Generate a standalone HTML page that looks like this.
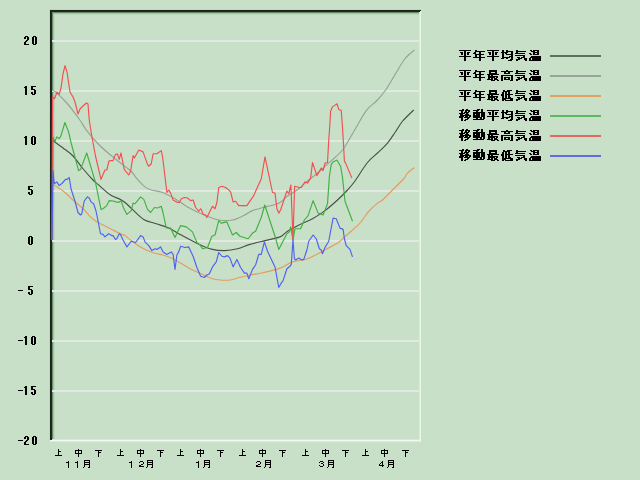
<!DOCTYPE html>
<html><head><meta charset="utf-8"><style>
html,body{margin:0;padding:0;background:#c8e0c8;width:640px;height:480px;overflow:hidden;font-family:"Liberation Sans",sans-serif}
svg{position:absolute;left:0;top:0;display:block}
</style></head><body>
<svg width="640" height="480" viewBox="0 0 640 480">
<rect x="0" y="0" width="640" height="480" fill="#c8e0c8"/>
<rect x="49" y="9" width="1" height="431" fill="#bcd6bc"/>
<rect x="49" y="9" width="372" height="1" fill="#bcd6bc"/>
<rect x="54" y="14" width="1" height="425" fill="#bcd8bc"/>
<rect x="54" y="14" width="365" height="1" fill="#bcd8bc"/>
<rect x="53" y="13" width="1" height="426" fill="#a8c4a8"/>
<rect x="53" y="13" width="366" height="1" fill="#a8c4a8"/>
<rect x="52" y="12" width="1" height="427" fill="#668a66"/>
<rect x="52" y="12" width="367" height="1" fill="#668a66"/>
<rect x="52" y="40" width="367" height="2" fill="#e0eae0"/><rect x="52" y="90" width="367" height="2" fill="#e0eae0"/><rect x="52" y="140" width="367" height="2" fill="#e0eae0"/><rect x="52" y="190" width="367" height="2" fill="#e0eae0"/><rect x="52" y="240" width="367" height="2" fill="#e0eae0"/><rect x="52" y="290" width="367" height="2" fill="#e0eae0"/><rect x="52" y="340" width="367" height="2" fill="#e0eae0"/><rect x="52" y="390" width="367" height="2" fill="#e0eae0"/>
<rect x="50" y="439" width="371" height="1" fill="#d4ead4"/>
<rect x="50" y="440" width="371" height="1" fill="#f0f8f0"/>
<rect x="50" y="441" width="371" height="1" fill="#dce8dc"/>
<rect x="419" y="10" width="1" height="430" fill="#d8ecd8"/>
<rect x="420" y="10" width="1" height="432" fill="#e8f6e8"/>
<rect x="50" y="10" width="1" height="430" fill="#1c221c"/>
<rect x="51" y="11" width="1" height="429" fill="#123012"/>
<rect x="50" y="10" width="371" height="1" fill="#1c221c"/>
<rect x="51" y="11" width="369" height="1" fill="#123012"/>
<g fill="none" stroke-width="1.15" stroke-linejoin="round" stroke-linecap="butt" shape-rendering="auto">
<path d="M52,140C53.83,141.33 59.50,145.33 63,148C66.50,150.67 69.67,152.54 73,156C76.33,159.46 79.67,164.75 83,168.75C86.33,172.75 90.50,177.39 93,180C95.50,182.61 95.08,181.90 98,184.4C100.92,186.90 106.75,192.50 110.5,195C114.25,197.50 118.08,198.15 120.5,199.4C122.92,200.65 123.00,200.83 125,202.5C127.00,204.17 129.38,206.58 132.5,209.4C135.62,212.22 139.79,217.01 143.75,219.4C147.71,221.79 152.08,222.32 156.25,223.75C160.42,225.18 164.58,226.12 168.75,228C172.92,229.88 176.04,232.22 181.25,235C186.46,237.78 194.79,242.30 200,244.7C205.21,247.10 208.33,248.42 212.5,249.4C216.67,250.38 220.83,250.71 225,250.6C229.17,250.49 233.33,249.78 237.5,248.75C241.67,247.72 245.42,245.76 250,244.4C254.58,243.04 260.00,241.85 265,240.6C270.00,239.35 276.25,238.46 280,236.9C283.75,235.34 284.17,233.33 287.5,231.25C290.83,229.17 295.83,226.48 300,224.4C304.17,222.32 308.33,221.05 312.5,218.75C316.67,216.45 320.83,213.72 325,210.6C329.17,207.47 333.75,203.43 337.5,200C341.25,196.57 344.58,193.17 347.5,190C350.42,186.83 351.67,185.58 355,181C358.33,176.42 363.54,167.35 367.5,162.5C371.46,157.65 375.42,155.13 378.75,151.9C382.08,148.67 384.79,146.33 387.5,143.1C390.21,139.87 392.50,136.14 395,132.5C397.50,128.86 399.38,125.00 402.5,121.25C405.62,117.50 411.88,111.88 413.75,110" stroke="#465246"/>
<path d="M52,90.5C52.58,90.73 53.04,89.82 55.5,91.9C57.96,93.98 62.83,98.53 66.75,103C70.67,107.47 75.67,114.15 79,118.75C82.33,123.35 83.58,126.43 86.75,130.6C89.92,134.77 94.04,139.68 98,143.75C101.96,147.82 105.50,150.83 110.5,155C115.50,159.17 124.54,166.04 128,168.75C131.46,171.46 129.67,169.47 131.25,171.25C132.83,173.03 135.21,176.79 137.5,179.4C139.79,182.01 142.71,185.13 145,186.9C147.29,188.67 148.33,189.07 151.25,190C154.17,190.93 158.54,191.04 162.5,192.5C166.46,193.96 170.83,196.35 175,198.75C179.17,201.15 182.50,204.14 187.5,206.9C192.50,209.66 199.79,213.12 205,215.3C210.21,217.48 214.17,219.22 218.75,220C223.33,220.78 228.33,220.73 232.5,220C236.67,219.27 240.42,217.17 243.75,215.6C247.08,214.03 248.96,212.05 252.5,210.6C256.04,209.15 262.18,207.67 265,206.9C267.82,206.13 266.95,206.68 269.4,206C271.85,205.32 276.73,204.43 279.7,202.8C282.67,201.18 284.70,198.12 287.2,196.25C289.70,194.38 292.67,192.92 294.7,191.6C296.73,190.28 297.68,189.72 299.4,188.3C301.12,186.88 302.82,184.98 305,183.1C307.18,181.22 310.00,179.02 312.5,177C315.00,174.98 317.08,173.52 320,171C322.92,168.48 326.25,165.40 330,161.9C333.75,158.40 338.75,154.69 342.5,150C346.25,145.31 348.54,140.32 352.5,133.75C356.46,127.18 362.29,116.02 366.25,110.6C370.21,105.18 373.02,104.68 376.25,101.25C379.48,97.82 382.27,94.79 385.6,90C388.93,85.21 393.02,77.71 396.25,72.5C399.48,67.29 401.98,62.50 405,58.75C408.02,55.00 412.83,51.46 414.4,50" stroke="#96a296"/>
<path d="M52,183.75C53.83,184.96 59.50,188.29 63,191C66.50,193.71 69.67,197.04 73,200C76.33,202.96 80.29,206.15 83,208.75C85.71,211.35 87.38,213.72 89.25,215.6C91.12,217.47 92.38,218.64 94.25,220C96.12,221.36 97.79,222.29 100.5,223.75C103.21,225.21 107.17,227.08 110.5,228.75C113.83,230.42 118.08,232.61 120.5,233.75C122.92,234.89 123.21,234.46 125,235.6C126.79,236.74 128.54,238.62 131.25,240.6C133.96,242.58 137.71,245.52 141.25,247.5C144.79,249.48 148.96,251.25 152.5,252.5C156.04,253.75 159.58,254.17 162.5,255C165.42,255.83 167.29,256.35 170,257.5C172.71,258.65 175.42,260.02 178.75,261.9C182.08,263.77 185.62,266.47 190,268.75C194.38,271.03 201.25,273.93 205,275.6C208.75,277.27 210.00,278.02 212.5,278.75C215.00,279.48 217.08,279.79 220,280C222.92,280.21 227.08,280.33 230,280C232.92,279.67 234.17,278.83 237.5,278C240.83,277.17 245.83,275.88 250,275C254.17,274.12 257.50,273.90 262.5,272.75C267.50,271.60 275.00,269.91 280,268.1C285.00,266.29 287.92,263.46 292.5,261.9C297.08,260.34 302.50,260.52 307.5,258.75C312.50,256.98 317.50,253.86 322.5,251.25C327.50,248.64 333.75,245.56 337.5,243.1C341.25,240.64 341.46,239.62 345,236.5C348.54,233.38 355.42,227.78 358.75,224.4C362.08,221.03 363.12,218.65 365,216.25C366.88,213.85 367.92,212.19 370,210C372.08,207.81 375.42,204.77 377.5,203.1C379.58,201.43 379.58,202.60 382.5,200C385.42,197.40 391.46,191.04 395,187.5C398.54,183.96 401.67,181.15 403.75,178.75C405.83,176.35 405.73,174.97 407.5,173.1C409.27,171.22 413.25,168.43 414.4,167.5" stroke="#e49c60"/>
<polyline points="52,240 53,137 54.9,141.9 56.75,136.9 59.25,138.75 61,135.6 64.9,122.5 68.6,131.9 71,142.5 78.6,170.6 80.5,169.4 86.75,153 90.5,165.6 95.5,182.5 101,209.4 103,208.75 106.75,205.6 109.25,200.6 113,201 116,201.9 118.6,202.5 121,200.6 123.6,208 126.9,214.4 131.25,210.6 133.1,203.1 135,203.75 140.6,196.9 143.75,199.4 147.5,209.4 150.6,212.5 154.4,207.5 157.5,208 161.25,206.25 163.1,213 166.25,228 170.6,228 175,237.5 180.6,225.6 186.25,226.9 192.5,231.9 196.9,242.5 200,245 202.5,248.75 207.5,247.5 211.9,236.25 215,235 218.75,220.6 221.25,223.1 226.9,221.9 232.5,235 236.25,232.5 240,236.25 248.1,238.75 252.5,233.1 255.6,231.25 261.25,217.5 264.75,205 275,236.25 278.75,249.4 286.9,233.75 289.4,231.9 290.6,226.9 293,240 295,228.75 300.6,228.75 304.4,220 308.1,215.6 313.1,200.6 318.1,213.1 323.1,215 326.25,206.9 327.5,203.75 329.4,176.25 331.25,164.4 333.1,161.9 336.9,160 340.6,166.25 342.5,177.5 345,201.25 352.5,221.25" stroke="#40b040"/>
<polyline points="52,240 52.5,97 54.5,98.75 57,92 59,94.5 61,88 63,74 65,65.6 67,72 70,92 73,97 75,102 78,114 80,109 83,106 86.5,103 88,104 89.25,120 91.75,136 95.5,156 101,179.4 104.9,170 106.75,170 109,161 110.5,160.6 113,160.6 115.5,154.4 117.4,154 119.25,159.4 121,153 124.25,169.4 128.75,175 130.6,171.25 133.1,155.6 134.4,158 138.75,150 143.1,151.9 147.5,164.4 148.75,166.25 151.25,163.75 153.1,153.75 156.9,153.75 161.25,150.6 162.5,156.25 166.9,192.5 168.75,190 170.6,193.1 173.1,200 177.5,202.5 179.4,202.5 181.25,198.75 184.4,197.5 187.5,198 190.6,200.6 193.1,200 195.6,207.5 198.75,211.25 200.6,208.75 201.25,209.4 203.1,214.4 205.6,215 206.9,217.5 208.75,213.75 212.5,206.25 215,208.75 216.9,202.5 218.75,187.5 221.9,186.25 225.6,187.5 228.1,189.4 230.6,191.9 233.1,201.9 235.6,201.25 238.75,205.6 246.9,205.6 249.4,201.9 253.75,195.6 261.25,178.75 265,156.9 272.5,192.5 275,193.1 276.9,208.75 278.75,213.1 280.6,210 286.9,191 288.75,193.75 290.9,185 293,240 294.6,186.25 299.4,187.5 301.25,187.5 305,181.9 307.5,183.1 310.6,178.1 312.5,162.5 316.9,175.6 321.25,168.1 323.1,170.6 325,163.1 327.5,162.5 328.75,140 330,122.5 330.6,111.25 332.5,106.9 334.4,105.6 336.9,103.75 338.75,109.4 341.25,110.6 342.5,127.5 343.75,148.75 344.4,161.25 345.6,163.1 351.9,178.1" stroke="#f05050"/>
<polyline points="52,240 53,170.6 54.25,183.75 56.75,181.9 59.25,185.6 62.4,183 65.5,179.4 67.4,179.4 69.25,177.5 71,188.75 74.9,201 78,212.5 80.5,215 81.75,213.75 84.25,201 87.4,196.9 89.25,198 91,201.9 93.6,203.75 96,211 98.6,223.75 100.5,233.75 103,234.4 104.9,236.9 108.6,233.75 111.75,235.6 113,235.6 115.5,239.4 116.75,238.75 119.25,233.75 120.5,234.4 123,240 126.9,246.9 131.25,241.25 135.6,242.5 140.6,235.6 143.1,236.9 145,241.9 148.75,245.6 151.9,250.6 155,248.75 156.9,249.4 160.6,246.9 163.1,251.9 166.9,254.4 171.25,251.9 173.1,254.4 175,269.4 176.9,255 178.75,251.9 180.6,246.25 185,247.5 188.75,246.9 193.1,256.25 196.9,267.5 200.6,276.25 204.4,277.5 206.9,275 209.4,273.75 212.5,266.9 216.25,261.9 218.75,252.5 221.9,256.25 224.4,256.9 227.5,255.6 230,258.1 233.1,266.9 236.9,259.4 240.6,267.5 244.4,273.1 246.9,273.1 248.75,278.75 252.5,269.4 255.6,265 258.75,254.4 261.25,254.4 264.4,241.9 267.5,251.25 275,266.9 278.75,287.5 281.25,283.1 283.1,280.6 286.9,268.75 290,266.25 291.25,264.4 293,240 294.4,258.75 295.6,260 298.75,258.1 301.9,260 303.75,259.4 306.9,250 308.75,241.25 313.1,235 316.25,238.75 319.4,248.75 321.25,250 322.5,253.75 325,247.5 328.75,241.25 330.6,231.25 333.1,218.1 336.25,218.75 340,228.1 343.1,229.4 344.4,238.75 346.25,245.6 350,249.4 352.5,256.9" stroke="#5060f0"/>
</g>
<path d="M25 36h3v1h-3zM24 37h2v1h-2zM27 37h2v1h-2zM24 38h2v1h-2zM27 38h2v1h-2zM27 39h2v1h-2zM26 40h2v1h-2zM25 41h2v1h-2zM24 42h2v1h-2zM24 43h2v1h-2zM24 44h5v1h-5zM33 36h3v1h-3zM32 37h2v1h-2zM35 37h2v1h-2zM32 38h2v1h-2zM35 38h2v1h-2zM32 39h2v1h-2zM35 39h2v1h-2zM32 40h2v1h-2zM35 40h2v1h-2zM32 41h2v1h-2zM35 41h2v1h-2zM32 42h2v1h-2zM35 42h2v1h-2zM32 43h2v1h-2zM35 43h2v1h-2zM33 44h3v1h-3zM25 86h2v1h-2zM24 87h3v1h-3zM25 88h2v1h-2zM25 89h2v1h-2zM25 90h2v1h-2zM25 91h2v1h-2zM25 92h2v1h-2zM25 93h2v1h-2zM25 94h2v1h-2zM31 86h5v1h-5zM31 87h2v1h-2zM31 88h2v1h-2zM31 89h4v1h-4zM34 90h2v1h-2zM34 91h2v1h-2zM31 92h2v1h-2zM34 92h2v1h-2zM31 93h2v1h-2zM34 93h2v1h-2zM32 94h3v1h-3zM25 136h2v1h-2zM24 137h3v1h-3zM25 138h2v1h-2zM25 139h2v1h-2zM25 140h2v1h-2zM25 141h2v1h-2zM25 142h2v1h-2zM25 143h2v1h-2zM25 144h2v1h-2zM32 136h3v1h-3zM31 137h2v1h-2zM34 137h2v1h-2zM31 138h2v1h-2zM34 138h2v1h-2zM31 139h2v1h-2zM34 139h2v1h-2zM31 140h2v1h-2zM34 140h2v1h-2zM31 141h2v1h-2zM34 141h2v1h-2zM31 142h2v1h-2zM34 142h2v1h-2zM31 143h2v1h-2zM34 143h2v1h-2zM32 144h3v1h-3zM28 186h5v1h-5zM28 187h2v1h-2zM28 188h2v1h-2zM28 189h4v1h-4zM31 190h2v1h-2zM31 191h2v1h-2zM28 192h2v1h-2zM31 192h2v1h-2zM28 193h2v1h-2zM31 193h2v1h-2zM29 194h3v1h-3zM29 236h3v1h-3zM28 237h2v1h-2zM31 237h2v1h-2zM28 238h2v1h-2zM31 238h2v1h-2zM28 239h2v1h-2zM31 239h2v1h-2zM28 240h2v1h-2zM31 240h2v1h-2zM28 241h2v1h-2zM31 241h2v1h-2zM28 242h2v1h-2zM31 242h2v1h-2zM28 243h2v1h-2zM31 243h2v1h-2zM29 244h3v1h-3zM18 290h5v1h-5zM28 286h5v1h-5zM28 287h2v1h-2zM28 288h2v1h-2zM28 289h4v1h-4zM31 290h2v1h-2zM31 291h2v1h-2zM28 292h2v1h-2zM31 292h2v1h-2zM28 293h2v1h-2zM31 293h2v1h-2zM29 294h3v1h-3zM18 340h5v1h-5zM25 336h2v1h-2zM24 337h3v1h-3zM25 338h2v1h-2zM25 339h2v1h-2zM25 340h2v1h-2zM25 341h2v1h-2zM25 342h2v1h-2zM25 343h2v1h-2zM25 344h2v1h-2zM32 336h3v1h-3zM31 337h2v1h-2zM34 337h2v1h-2zM31 338h2v1h-2zM34 338h2v1h-2zM31 339h2v1h-2zM34 339h2v1h-2zM31 340h2v1h-2zM34 340h2v1h-2zM31 341h2v1h-2zM34 341h2v1h-2zM31 342h2v1h-2zM34 342h2v1h-2zM31 343h2v1h-2zM34 343h2v1h-2zM32 344h3v1h-3zM18 390h5v1h-5zM25 386h2v1h-2zM24 387h3v1h-3zM25 388h2v1h-2zM25 389h2v1h-2zM25 390h2v1h-2zM25 391h2v1h-2zM25 392h2v1h-2zM25 393h2v1h-2zM25 394h2v1h-2zM31 386h5v1h-5zM31 387h2v1h-2zM31 388h2v1h-2zM31 389h4v1h-4zM34 390h2v1h-2zM34 391h2v1h-2zM31 392h2v1h-2zM34 392h2v1h-2zM31 393h2v1h-2zM34 393h2v1h-2zM32 394h3v1h-3zM18 440h5v1h-5zM25 436h3v1h-3zM24 437h2v1h-2zM27 437h2v1h-2zM24 438h2v1h-2zM27 438h2v1h-2zM27 439h2v1h-2zM26 440h2v1h-2zM25 441h2v1h-2zM24 442h2v1h-2zM24 443h2v1h-2zM24 444h5v1h-5zM33 436h3v1h-3zM32 437h2v1h-2zM35 437h2v1h-2zM32 438h2v1h-2zM35 438h2v1h-2zM32 439h2v1h-2zM35 439h2v1h-2zM32 440h2v1h-2zM35 440h2v1h-2zM32 441h2v1h-2zM35 441h2v1h-2zM32 442h2v1h-2zM35 442h2v1h-2zM32 443h2v1h-2zM35 443h2v1h-2zM33 444h3v1h-3z" fill="#000"/>
<path d="M58 449h1v1h-1zM58 450h1v1h-1zM58 451h3v1h-3zM58 452h1v1h-1zM58 453h1v1h-1zM58 454h1v1h-1zM55 455h7v1h-7zM120 449h1v1h-1zM120 450h1v1h-1zM120 451h3v1h-3zM120 452h1v1h-1zM120 453h1v1h-1zM120 454h1v1h-1zM117 455h7v1h-7zM180 449h1v1h-1zM180 450h1v1h-1zM180 451h3v1h-3zM180 452h1v1h-1zM180 453h1v1h-1zM180 454h1v1h-1zM177 455h7v1h-7zM242 449h1v1h-1zM242 450h1v1h-1zM242 451h3v1h-3zM242 452h1v1h-1zM242 453h1v1h-1zM242 454h1v1h-1zM239 455h7v1h-7zM305 449h1v1h-1zM305 450h1v1h-1zM305 451h3v1h-3zM305 452h1v1h-1zM305 453h1v1h-1zM305 454h1v1h-1zM302 455h7v1h-7zM365 449h1v1h-1zM365 450h1v1h-1zM365 451h3v1h-3zM365 452h1v1h-1zM365 453h1v1h-1zM365 454h1v1h-1zM362 455h7v1h-7zM78 449h1v1h-1zM75 450h7v1h-7zM75 451h1v1h-1zM78 451h1v1h-1zM81 451h1v1h-1zM75 452h1v1h-1zM78 452h1v1h-1zM81 452h1v1h-1zM75 453h7v1h-7zM78 454h1v1h-1zM78 455h1v1h-1zM78 456h1v1h-1zM140 449h1v1h-1zM137 450h7v1h-7zM137 451h1v1h-1zM140 451h1v1h-1zM143 451h1v1h-1zM137 452h1v1h-1zM140 452h1v1h-1zM143 452h1v1h-1zM137 453h7v1h-7zM140 454h1v1h-1zM140 455h1v1h-1zM140 456h1v1h-1zM200 449h1v1h-1zM197 450h7v1h-7zM197 451h1v1h-1zM200 451h1v1h-1zM203 451h1v1h-1zM197 452h1v1h-1zM200 452h1v1h-1zM203 452h1v1h-1zM197 453h7v1h-7zM200 454h1v1h-1zM200 455h1v1h-1zM200 456h1v1h-1zM262 449h1v1h-1zM259 450h7v1h-7zM259 451h1v1h-1zM262 451h1v1h-1zM265 451h1v1h-1zM259 452h1v1h-1zM262 452h1v1h-1zM265 452h1v1h-1zM259 453h7v1h-7zM262 454h1v1h-1zM262 455h1v1h-1zM262 456h1v1h-1zM325 449h1v1h-1zM322 450h7v1h-7zM322 451h1v1h-1zM325 451h1v1h-1zM328 451h1v1h-1zM322 452h1v1h-1zM325 452h1v1h-1zM328 452h1v1h-1zM322 453h7v1h-7zM325 454h1v1h-1zM325 455h1v1h-1zM325 456h1v1h-1zM384 449h1v1h-1zM381 450h7v1h-7zM381 451h1v1h-1zM384 451h1v1h-1zM387 451h1v1h-1zM381 452h1v1h-1zM384 452h1v1h-1zM387 452h1v1h-1zM381 453h7v1h-7zM384 454h1v1h-1zM384 455h1v1h-1zM384 456h1v1h-1zM95 450h7v1h-7zM98 451h1v1h-1zM98 452h3v1h-3zM98 453h1v1h-1zM98 454h1v1h-1zM98 455h1v1h-1zM98 456h1v1h-1zM157 450h7v1h-7zM160 451h1v1h-1zM160 452h3v1h-3zM160 453h1v1h-1zM160 454h1v1h-1zM160 455h1v1h-1zM160 456h1v1h-1zM217 450h7v1h-7zM220 451h1v1h-1zM220 452h3v1h-3zM220 453h1v1h-1zM220 454h1v1h-1zM220 455h1v1h-1zM220 456h1v1h-1zM279 450h7v1h-7zM282 451h1v1h-1zM282 452h3v1h-3zM282 453h1v1h-1zM282 454h1v1h-1zM282 455h1v1h-1zM282 456h1v1h-1zM342 450h7v1h-7zM345 451h1v1h-1zM345 452h3v1h-3zM345 453h1v1h-1zM345 454h1v1h-1zM345 455h1v1h-1zM345 456h1v1h-1zM402 450h7v1h-7zM405 451h1v1h-1zM405 452h3v1h-3zM405 453h1v1h-1zM405 454h1v1h-1zM405 455h1v1h-1zM405 456h1v1h-1zM68 461h1v1h-1zM66 462h3v1h-3zM68 463h1v1h-1zM68 464h1v1h-1zM68 465h1v1h-1zM68 466h1v1h-1zM68 467h1v1h-1zM77 461h1v1h-1zM75 462h3v1h-3zM77 463h1v1h-1zM77 464h1v1h-1zM77 465h1v1h-1zM77 466h1v1h-1zM77 467h1v1h-1zM84 460h6v1h-6zM84 461h1v1h-1zM89 461h1v1h-1zM84 462h6v1h-6zM84 463h1v1h-1zM89 463h1v1h-1zM84 464h6v1h-6zM84 465h1v1h-1zM89 465h1v1h-1zM84 466h1v1h-1zM89 466h1v1h-1zM83 467h1v1h-1zM88 467h2v1h-2zM131 461h1v1h-1zM129 462h3v1h-3zM131 463h1v1h-1zM131 464h1v1h-1zM131 465h1v1h-1zM131 466h1v1h-1zM131 467h1v1h-1zM140 461h3v1h-3zM139 462h1v1h-1zM143 462h1v1h-1zM143 463h1v1h-1zM141 464h2v1h-2zM139 465h2v1h-2zM139 466h5v1h-5zM147 460h6v1h-6zM147 461h1v1h-1zM152 461h1v1h-1zM147 462h6v1h-6zM147 463h1v1h-1zM152 463h1v1h-1zM147 464h6v1h-6zM147 465h1v1h-1zM152 465h1v1h-1zM147 466h1v1h-1zM152 466h1v1h-1zM146 467h1v1h-1zM151 467h2v1h-2zM198 461h1v1h-1zM196 462h3v1h-3zM198 463h1v1h-1zM198 464h1v1h-1zM198 465h1v1h-1zM198 466h1v1h-1zM198 467h1v1h-1zM204 460h6v1h-6zM204 461h1v1h-1zM209 461h1v1h-1zM204 462h6v1h-6zM204 463h1v1h-1zM209 463h1v1h-1zM204 464h6v1h-6zM204 465h1v1h-1zM209 465h1v1h-1zM204 466h1v1h-1zM209 466h1v1h-1zM203 467h1v1h-1zM208 467h2v1h-2zM257 461h3v1h-3zM256 462h1v1h-1zM260 462h1v1h-1zM260 463h1v1h-1zM258 464h2v1h-2zM256 465h2v1h-2zM256 466h5v1h-5zM265 460h6v1h-6zM265 461h1v1h-1zM270 461h1v1h-1zM265 462h6v1h-6zM265 463h1v1h-1zM270 463h1v1h-1zM265 464h6v1h-6zM265 465h1v1h-1zM270 465h1v1h-1zM265 466h1v1h-1zM270 466h1v1h-1zM264 467h1v1h-1zM269 467h2v1h-2zM320 461h3v1h-3zM319 462h1v1h-1zM323 462h1v1h-1zM321 463h2v1h-2zM323 464h1v1h-1zM319 465h1v1h-1zM323 465h1v1h-1zM320 466h3v1h-3zM328 460h6v1h-6zM328 461h1v1h-1zM333 461h1v1h-1zM328 462h6v1h-6zM328 463h1v1h-1zM333 463h1v1h-1zM328 464h6v1h-6zM328 465h1v1h-1zM333 465h1v1h-1zM328 466h1v1h-1zM333 466h1v1h-1zM327 467h1v1h-1zM332 467h2v1h-2zM382 461h1v1h-1zM381 462h2v1h-2zM380 463h1v1h-1zM382 463h1v1h-1zM379 464h1v1h-1zM382 464h1v1h-1zM379 465h5v1h-5zM382 466h1v1h-1zM388 460h6v1h-6zM388 461h1v1h-1zM393 461h1v1h-1zM388 462h6v1h-6zM388 463h1v1h-1zM393 463h1v1h-1zM388 464h6v1h-6zM388 465h1v1h-1zM393 465h1v1h-1zM388 466h1v1h-1zM393 466h1v1h-1zM387 467h1v1h-1zM392 467h2v1h-2z" fill="#000"/>
<path d="M459 50h12v1h-12zM464 51h2v1h-2zM460 52h3v1h-3zM464 52h2v1h-2zM467 52h3v1h-3zM461 53h2v1h-2zM464 53h2v1h-2zM467 53h2v1h-2zM461 54h2v1h-2zM464 54h2v1h-2zM467 54h2v1h-2zM464 55h2v1h-2zM459 56h12v1h-12zM464 57h2v1h-2zM464 58h2v1h-2zM464 59h2v1h-2zM464 60h2v1h-2zM475 50h2v1h-2zM475 51h10v1h-10zM474 52h2v1h-2zM479 52h2v1h-2zM473 53h3v1h-3zM479 53h2v1h-2zM475 54h9v1h-9zM475 55h2v1h-2zM479 55h2v1h-2zM475 56h2v1h-2zM479 56h2v1h-2zM473 57h12v1h-12zM479 58h2v1h-2zM479 59h2v1h-2zM479 60h2v1h-2zM487 50h12v1h-12zM492 51h2v1h-2zM488 52h3v1h-3zM492 52h2v1h-2zM495 52h3v1h-3zM489 53h2v1h-2zM492 53h2v1h-2zM495 53h2v1h-2zM489 54h2v1h-2zM492 54h2v1h-2zM495 54h2v1h-2zM492 55h2v1h-2zM487 56h12v1h-12zM492 57h2v1h-2zM492 58h2v1h-2zM492 59h2v1h-2zM492 60h2v1h-2zM502 50h2v1h-2zM506 50h2v1h-2zM502 51h2v1h-2zM506 51h7v1h-7zM501 52h7v1h-7zM511 52h2v1h-2zM502 53h2v1h-2zM505 53h2v1h-2zM511 53h2v1h-2zM502 54h2v1h-2zM506 54h7v1h-7zM502 55h2v1h-2zM511 55h2v1h-2zM502 56h2v1h-2zM509 56h4v1h-4zM502 57h8v1h-8zM511 57h2v1h-2zM501 58h3v1h-3zM506 58h2v1h-2zM511 58h2v1h-2zM510 59h3v1h-3zM508 60h4v1h-4zM516 50h2v1h-2zM516 51h10v1h-10zM516 52h2v1h-2zM515 53h10v1h-10zM515 55h10v1h-10zM523 56h2v1h-2zM517 57h3v1h-3zM521 57h4v1h-4zM518 58h4v1h-4zM524 58h3v1h-3zM516 59h4v1h-4zM524 59h3v1h-3zM516 60h2v1h-2zM525 60h2v1h-2zM530 50h2v1h-2zM533 50h6v1h-6zM531 51h4v1h-4zM537 51h2v1h-2zM533 52h6v1h-6zM529 53h2v1h-2zM533 53h2v1h-2zM537 53h2v1h-2zM530 54h2v1h-2zM533 54h6v1h-6zM531 56h10v1h-10zM530 57h11v1h-11zM529 58h2v1h-2zM532 58h9v1h-9zM529 59h2v1h-2zM532 59h9v1h-9zM529 60h12v1h-12zM459 70h12v1h-12zM464 71h2v1h-2zM460 72h3v1h-3zM464 72h2v1h-2zM467 72h3v1h-3zM461 73h2v1h-2zM464 73h2v1h-2zM467 73h2v1h-2zM461 74h2v1h-2zM464 74h2v1h-2zM467 74h2v1h-2zM464 75h2v1h-2zM459 76h12v1h-12zM464 77h2v1h-2zM464 78h2v1h-2zM464 79h2v1h-2zM464 80h2v1h-2zM475 70h2v1h-2zM475 71h10v1h-10zM474 72h2v1h-2zM479 72h2v1h-2zM473 73h3v1h-3zM479 73h2v1h-2zM475 74h9v1h-9zM475 75h2v1h-2zM479 75h2v1h-2zM475 76h2v1h-2zM479 76h2v1h-2zM473 77h12v1h-12zM479 78h2v1h-2zM479 79h2v1h-2zM479 80h2v1h-2zM489 70h8v1h-8zM489 71h8v1h-8zM489 72h2v1h-2zM495 72h2v1h-2zM489 73h8v1h-8zM487 74h12v1h-12zM488 75h2v1h-2zM491 75h2v1h-2zM488 76h10v1h-10zM488 77h7v1h-7zM496 77h2v1h-2zM488 78h2v1h-2zM491 78h2v1h-2zM494 78h3v1h-3zM487 79h6v1h-6zM494 79h4v1h-4zM491 80h4v1h-4zM497 80h2v1h-2zM506 70h2v1h-2zM501 71h12v1h-12zM504 72h2v1h-2zM508 72h2v1h-2zM504 73h6v1h-6zM501 75h12v1h-12zM501 76h2v1h-2zM511 76h2v1h-2zM501 77h2v1h-2zM504 77h6v1h-6zM511 77h2v1h-2zM501 78h2v1h-2zM504 78h2v1h-2zM508 78h2v1h-2zM511 78h2v1h-2zM501 79h2v1h-2zM504 79h6v1h-6zM511 79h2v1h-2zM501 80h2v1h-2zM510 80h3v1h-3zM516 70h2v1h-2zM516 71h10v1h-10zM516 72h2v1h-2zM515 73h10v1h-10zM515 75h10v1h-10zM523 76h2v1h-2zM517 77h3v1h-3zM521 77h4v1h-4zM518 78h4v1h-4zM524 78h3v1h-3zM516 79h4v1h-4zM524 79h3v1h-3zM516 80h2v1h-2zM525 80h2v1h-2zM530 70h2v1h-2zM533 70h6v1h-6zM531 71h4v1h-4zM537 71h2v1h-2zM533 72h6v1h-6zM529 73h2v1h-2zM533 73h2v1h-2zM537 73h2v1h-2zM530 74h2v1h-2zM533 74h6v1h-6zM531 76h10v1h-10zM530 77h11v1h-11zM529 78h2v1h-2zM532 78h9v1h-9zM529 79h2v1h-2zM532 79h9v1h-9zM529 80h12v1h-12zM459 90h12v1h-12zM464 91h2v1h-2zM460 92h3v1h-3zM464 92h2v1h-2zM467 92h3v1h-3zM461 93h2v1h-2zM464 93h2v1h-2zM467 93h2v1h-2zM461 94h2v1h-2zM464 94h2v1h-2zM467 94h2v1h-2zM464 95h2v1h-2zM459 96h12v1h-12zM464 97h2v1h-2zM464 98h2v1h-2zM464 99h2v1h-2zM464 100h2v1h-2zM475 90h2v1h-2zM475 91h10v1h-10zM474 92h2v1h-2zM479 92h2v1h-2zM473 93h3v1h-3zM479 93h2v1h-2zM475 94h9v1h-9zM475 95h2v1h-2zM479 95h2v1h-2zM475 96h2v1h-2zM479 96h2v1h-2zM473 97h12v1h-12zM479 98h2v1h-2zM479 99h2v1h-2zM479 100h2v1h-2zM489 90h8v1h-8zM489 91h8v1h-8zM489 92h2v1h-2zM495 92h2v1h-2zM489 93h8v1h-8zM487 94h12v1h-12zM488 95h2v1h-2zM491 95h2v1h-2zM488 96h10v1h-10zM488 97h7v1h-7zM496 97h2v1h-2zM488 98h2v1h-2zM491 98h2v1h-2zM494 98h3v1h-3zM487 99h6v1h-6zM494 99h4v1h-4zM491 100h4v1h-4zM497 100h2v1h-2zM503 90h2v1h-2zM507 90h5v1h-5zM503 91h7v1h-7zM502 92h2v1h-2zM505 92h2v1h-2zM508 92h2v1h-2zM502 93h2v1h-2zM505 93h2v1h-2zM508 93h2v1h-2zM501 94h3v1h-3zM505 94h8v1h-8zM501 95h3v1h-3zM505 95h2v1h-2zM508 95h2v1h-2zM502 96h2v1h-2zM505 96h2v1h-2zM508 96h2v1h-2zM502 97h2v1h-2zM505 97h2v1h-2zM508 97h3v1h-3zM502 98h11v1h-11zM502 99h4v1h-4zM510 99h3v1h-3zM502 100h2v1h-2zM505 100h8v1h-8zM516 90h2v1h-2zM516 91h10v1h-10zM516 92h2v1h-2zM515 93h10v1h-10zM515 95h10v1h-10zM523 96h2v1h-2zM517 97h3v1h-3zM521 97h4v1h-4zM518 98h4v1h-4zM524 98h3v1h-3zM516 99h4v1h-4zM524 99h3v1h-3zM516 100h2v1h-2zM525 100h2v1h-2zM530 90h2v1h-2zM533 90h6v1h-6zM531 91h4v1h-4zM537 91h2v1h-2zM533 92h6v1h-6zM529 93h2v1h-2zM533 93h2v1h-2zM537 93h2v1h-2zM530 94h2v1h-2zM533 94h6v1h-6zM531 96h10v1h-10zM530 97h11v1h-11zM529 98h2v1h-2zM532 98h9v1h-9zM529 99h2v1h-2zM532 99h9v1h-9zM529 100h12v1h-12zM462 109h2v1h-2zM466 109h2v1h-2zM459 110h5v1h-5zM465 110h5v1h-5zM461 111h2v1h-2zM465 111h2v1h-2zM468 111h2v1h-2zM461 112h2v1h-2zM464 112h5v1h-5zM459 113h6v1h-6zM466 113h2v1h-2zM460 114h3v1h-3zM465 114h4v1h-4zM460 115h11v1h-11zM459 116h5v1h-5zM465 116h3v1h-3zM469 116h2v1h-2zM459 117h4v1h-4zM464 117h6v1h-6zM461 118h2v1h-2zM467 118h2v1h-2zM461 119h2v1h-2zM465 119h3v1h-3zM461 120h2v1h-2zM464 120h2v1h-2zM477 109h3v1h-3zM481 109h2v1h-2zM473 110h6v1h-6zM481 110h2v1h-2zM476 111h2v1h-2zM481 111h2v1h-2zM473 112h12v1h-12zM473 113h7v1h-7zM481 113h4v1h-4zM473 114h2v1h-2zM476 114h4v1h-4zM481 114h4v1h-4zM473 115h7v1h-7zM481 115h4v1h-4zM473 116h7v1h-7zM481 116h4v1h-4zM473 117h9v1h-9zM483 117h2v1h-2zM476 118h2v1h-2zM480 118h2v1h-2zM483 118h2v1h-2zM473 119h11v1h-11zM487 110h12v1h-12zM492 111h2v1h-2zM488 112h3v1h-3zM492 112h2v1h-2zM495 112h3v1h-3zM489 113h2v1h-2zM492 113h2v1h-2zM495 113h2v1h-2zM489 114h2v1h-2zM492 114h2v1h-2zM495 114h2v1h-2zM492 115h2v1h-2zM487 116h12v1h-12zM492 117h2v1h-2zM492 118h2v1h-2zM492 119h2v1h-2zM492 120h2v1h-2zM502 110h2v1h-2zM506 110h2v1h-2zM502 111h2v1h-2zM506 111h7v1h-7zM501 112h7v1h-7zM511 112h2v1h-2zM502 113h2v1h-2zM505 113h2v1h-2zM511 113h2v1h-2zM502 114h2v1h-2zM506 114h7v1h-7zM502 115h2v1h-2zM511 115h2v1h-2zM502 116h2v1h-2zM509 116h4v1h-4zM502 117h8v1h-8zM511 117h2v1h-2zM501 118h3v1h-3zM506 118h2v1h-2zM511 118h2v1h-2zM510 119h3v1h-3zM508 120h4v1h-4zM516 110h2v1h-2zM516 111h10v1h-10zM516 112h2v1h-2zM515 113h10v1h-10zM515 115h10v1h-10zM523 116h2v1h-2zM517 117h3v1h-3zM521 117h4v1h-4zM518 118h4v1h-4zM524 118h3v1h-3zM516 119h4v1h-4zM524 119h3v1h-3zM516 120h2v1h-2zM525 120h2v1h-2zM530 110h2v1h-2zM533 110h6v1h-6zM531 111h4v1h-4zM537 111h2v1h-2zM533 112h6v1h-6zM529 113h2v1h-2zM533 113h2v1h-2zM537 113h2v1h-2zM530 114h2v1h-2zM533 114h6v1h-6zM531 116h10v1h-10zM530 117h11v1h-11zM529 118h2v1h-2zM532 118h9v1h-9zM529 119h2v1h-2zM532 119h9v1h-9zM529 120h12v1h-12zM462 129h2v1h-2zM466 129h2v1h-2zM459 130h5v1h-5zM465 130h5v1h-5zM461 131h2v1h-2zM465 131h2v1h-2zM468 131h2v1h-2zM461 132h2v1h-2zM464 132h5v1h-5zM459 133h6v1h-6zM466 133h2v1h-2zM460 134h3v1h-3zM465 134h4v1h-4zM460 135h11v1h-11zM459 136h5v1h-5zM465 136h3v1h-3zM469 136h2v1h-2zM459 137h4v1h-4zM464 137h6v1h-6zM461 138h2v1h-2zM467 138h2v1h-2zM461 139h2v1h-2zM465 139h3v1h-3zM461 140h2v1h-2zM464 140h2v1h-2zM477 129h3v1h-3zM481 129h2v1h-2zM473 130h6v1h-6zM481 130h2v1h-2zM476 131h2v1h-2zM481 131h2v1h-2zM473 132h12v1h-12zM473 133h7v1h-7zM481 133h4v1h-4zM473 134h2v1h-2zM476 134h4v1h-4zM481 134h4v1h-4zM473 135h7v1h-7zM481 135h4v1h-4zM473 136h7v1h-7zM481 136h4v1h-4zM473 137h9v1h-9zM483 137h2v1h-2zM476 138h2v1h-2zM480 138h2v1h-2zM483 138h2v1h-2zM473 139h11v1h-11zM489 130h8v1h-8zM489 131h8v1h-8zM489 132h2v1h-2zM495 132h2v1h-2zM489 133h8v1h-8zM487 134h12v1h-12zM488 135h2v1h-2zM491 135h2v1h-2zM488 136h10v1h-10zM488 137h7v1h-7zM496 137h2v1h-2zM488 138h2v1h-2zM491 138h2v1h-2zM494 138h3v1h-3zM487 139h6v1h-6zM494 139h4v1h-4zM491 140h4v1h-4zM497 140h2v1h-2zM506 130h2v1h-2zM501 131h12v1h-12zM504 132h2v1h-2zM508 132h2v1h-2zM504 133h6v1h-6zM501 135h12v1h-12zM501 136h2v1h-2zM511 136h2v1h-2zM501 137h2v1h-2zM504 137h6v1h-6zM511 137h2v1h-2zM501 138h2v1h-2zM504 138h2v1h-2zM508 138h2v1h-2zM511 138h2v1h-2zM501 139h2v1h-2zM504 139h6v1h-6zM511 139h2v1h-2zM501 140h2v1h-2zM510 140h3v1h-3zM516 130h2v1h-2zM516 131h10v1h-10zM516 132h2v1h-2zM515 133h10v1h-10zM515 135h10v1h-10zM523 136h2v1h-2zM517 137h3v1h-3zM521 137h4v1h-4zM518 138h4v1h-4zM524 138h3v1h-3zM516 139h4v1h-4zM524 139h3v1h-3zM516 140h2v1h-2zM525 140h2v1h-2zM530 130h2v1h-2zM533 130h6v1h-6zM531 131h4v1h-4zM537 131h2v1h-2zM533 132h6v1h-6zM529 133h2v1h-2zM533 133h2v1h-2zM537 133h2v1h-2zM530 134h2v1h-2zM533 134h6v1h-6zM531 136h10v1h-10zM530 137h11v1h-11zM529 138h2v1h-2zM532 138h9v1h-9zM529 139h2v1h-2zM532 139h9v1h-9zM529 140h12v1h-12zM462 149h2v1h-2zM466 149h2v1h-2zM459 150h5v1h-5zM465 150h5v1h-5zM461 151h2v1h-2zM465 151h2v1h-2zM468 151h2v1h-2zM461 152h2v1h-2zM464 152h5v1h-5zM459 153h6v1h-6zM466 153h2v1h-2zM460 154h3v1h-3zM465 154h4v1h-4zM460 155h11v1h-11zM459 156h5v1h-5zM465 156h3v1h-3zM469 156h2v1h-2zM459 157h4v1h-4zM464 157h6v1h-6zM461 158h2v1h-2zM467 158h2v1h-2zM461 159h2v1h-2zM465 159h3v1h-3zM461 160h2v1h-2zM464 160h2v1h-2zM477 149h3v1h-3zM481 149h2v1h-2zM473 150h6v1h-6zM481 150h2v1h-2zM476 151h2v1h-2zM481 151h2v1h-2zM473 152h12v1h-12zM473 153h7v1h-7zM481 153h4v1h-4zM473 154h2v1h-2zM476 154h4v1h-4zM481 154h4v1h-4zM473 155h7v1h-7zM481 155h4v1h-4zM473 156h7v1h-7zM481 156h4v1h-4zM473 157h9v1h-9zM483 157h2v1h-2zM476 158h2v1h-2zM480 158h2v1h-2zM483 158h2v1h-2zM473 159h11v1h-11zM489 150h8v1h-8zM489 151h8v1h-8zM489 152h2v1h-2zM495 152h2v1h-2zM489 153h8v1h-8zM487 154h12v1h-12zM488 155h2v1h-2zM491 155h2v1h-2zM488 156h10v1h-10zM488 157h7v1h-7zM496 157h2v1h-2zM488 158h2v1h-2zM491 158h2v1h-2zM494 158h3v1h-3zM487 159h6v1h-6zM494 159h4v1h-4zM491 160h4v1h-4zM497 160h2v1h-2zM503 150h2v1h-2zM507 150h5v1h-5zM503 151h7v1h-7zM502 152h2v1h-2zM505 152h2v1h-2zM508 152h2v1h-2zM502 153h2v1h-2zM505 153h2v1h-2zM508 153h2v1h-2zM501 154h3v1h-3zM505 154h8v1h-8zM501 155h3v1h-3zM505 155h2v1h-2zM508 155h2v1h-2zM502 156h2v1h-2zM505 156h2v1h-2zM508 156h2v1h-2zM502 157h2v1h-2zM505 157h2v1h-2zM508 157h3v1h-3zM502 158h11v1h-11zM502 159h4v1h-4zM510 159h3v1h-3zM502 160h2v1h-2zM505 160h8v1h-8zM516 150h2v1h-2zM516 151h10v1h-10zM516 152h2v1h-2zM515 153h10v1h-10zM515 155h10v1h-10zM523 156h2v1h-2zM517 157h3v1h-3zM521 157h4v1h-4zM518 158h4v1h-4zM524 158h3v1h-3zM516 159h4v1h-4zM524 159h3v1h-3zM516 160h2v1h-2zM525 160h2v1h-2zM530 150h2v1h-2zM533 150h6v1h-6zM531 151h4v1h-4zM537 151h2v1h-2zM533 152h6v1h-6zM529 153h2v1h-2zM533 153h2v1h-2zM537 153h2v1h-2zM530 154h2v1h-2zM533 154h6v1h-6zM531 156h10v1h-10zM530 157h11v1h-11zM529 158h2v1h-2zM532 158h9v1h-9zM529 159h2v1h-2zM532 159h9v1h-9zM529 160h12v1h-12z" fill="#000"/>
<rect x="550" y="55" width="51" height="2" fill="#607060"/>
<rect x="550" y="75" width="51" height="2" fill="#98a498"/>
<rect x="550" y="95" width="51" height="2" fill="#e0a060"/>
<rect x="550" y="115" width="51" height="2" fill="#60b860"/>
<rect x="550" y="135" width="51" height="2" fill="#e06860"/>
<rect x="550" y="155" width="51" height="2" fill="#606ce0"/>
</svg>
</body></html>
